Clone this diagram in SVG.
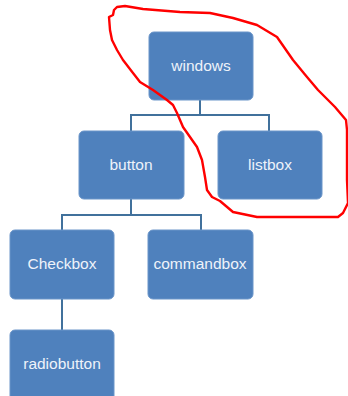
<svg xmlns="http://www.w3.org/2000/svg" width="348" height="396" viewBox="0 0 348 396">
<style>
.box{fill:#4f81bd;stroke:#6a95c9;stroke-width:1}
.lbl{font-family:"Liberation Sans",Arial,sans-serif;font-size:15.5px;fill:#eef3fa;text-anchor:middle}
.con{fill:none;stroke:#41719c;stroke-width:2}
.ink{fill:none;stroke:#ff0000;stroke-width:2.4;stroke-linejoin:round;stroke-linecap:round}
</style>
<rect width="348" height="396" fill="#ffffff"/>
<g id="connectors">
<path class="con" d="M200,100 V115 M131,131 V115 H269 V131"/>
<path class="con" d="M131,199 V215 M62,230 V215 H201 V230"/>
<path class="con" d="M62,299 V330"/>
</g>
<g id="windows"><rect class="box" x="149" y="32" width="104" height="68" rx="5"/><text class="lbl" x="201" y="71">windows</text></g>
<g id="button"><rect class="box" x="79" y="131" width="105" height="68" rx="5"/><text class="lbl" x="131" y="170">button</text></g>
<g id="listbox"><rect class="box" x="218" y="131" width="104" height="68" rx="5"/><text class="lbl" x="270" y="170">listbox</text></g>
<g id="Checkbox"><rect class="box" x="10" y="230" width="104" height="69" rx="5"/><text class="lbl" x="62" y="269">Checkbox</text></g>
<g id="commandbox"><rect class="box" x="148" y="230" width="105" height="69" rx="5"/><text class="lbl" x="200" y="269">commandbox</text></g>
<g id="radiobutton"><rect class="box" x="10" y="330" width="104" height="72" rx="5"/><text class="lbl" x="62" y="369">radiobutton</text></g>
<path class="ink" d="M123,60 L117,50 L112,40 L110,30 L109,17 L113,15 L114,10 L117,7 L125,6 L143,9 L180,12 L210,13 L233,18 L257,25 L277,37 L293,60 L307,77 L318,90 L335,107 L346,120 L347,130 L347,180 L348,203 L343,213 L338,217 L257,217 L233,212 L220,201 L212,197 L207,190 L205,177 L202,160 L197,147 L183,127 L177,113 L173,105 L167,100 L153,90 L140,82 L133,73 L123,60"/>
</svg>
